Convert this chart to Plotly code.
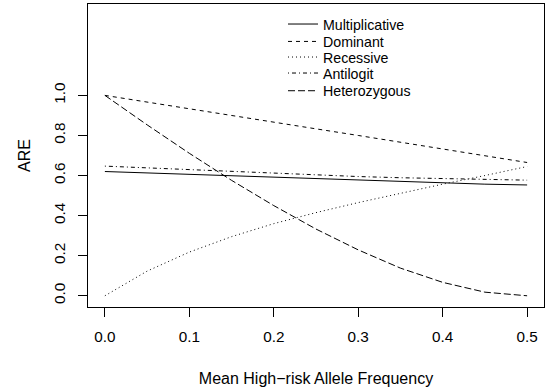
import plotly.graph_objects as go

# Mean high-risk allele frequency
freq = [0.0, 0.05, 0.10, 0.15, 0.20, 0.25, 0.30, 0.35, 0.40, 0.45, 0.50]

# ARE values
multiplicative = [0.620, 0.613, 0.606, 0.597, 0.589, 0.582, 0.575, 0.568, 0.562, 0.557, 0.553]
dominant = [1.000, 0.966, 0.932, 0.899, 0.866, 0.833, 0.800, 0.767, 0.733, 0.699, 0.665]
recessive = [0.000, 0.123, 0.218, 0.295, 0.360, 0.415, 0.465, 0.512, 0.557, 0.600, 0.645]
antilogit = [0.647, 0.638, 0.630, 0.620, 0.611, 0.602, 0.595, 0.589, 0.584, 0.580, 0.577]
heterozygous = [1.000, 0.853, 0.711, 0.576, 0.450, 0.333, 0.229, 0.138, 0.067, 0.018, 0.000]

series_names = ["Multiplicative", "Dominant", "Recessive", "Antilogit", "Heterozygous"]
series_values = [multiplicative, dominant, recessive, antilogit, heterozygous]
dashes = ["solid", "4px,4px", "1px,3px", "1px,3px,4px,3px", "7px,3px"]

x_ticks = [0.0, 0.1, 0.2, 0.3, 0.4, 0.5]
y_ticks = [0.0, 0.2, 0.4, 0.6, 0.8, 1.0]

FONT = "Liberation Sans, Arial, Helvetica, sans-serif"
FS_TICK = 15.3
FS_TITLE = 16
FS_LEG = 14.2

W, H = 550, 391
ML, MR, MT, MB = 88, 6, 4, 84
plot_h = H - MT - MB
plot_w = W - ML - MR

legend_rows_px = [24.3, 41.7, 57.3, 73.3, 91.0]
legend_left_px = 283

fig = go.Figure()
legend_keys = ["legend", "legend2", "legend3", "legend4", "legend5"]
for name, vals, dash, lk in zip(series_names, series_values, dashes, legend_keys):
    fig.add_trace(go.Scatter(
        x=freq, y=vals, mode="lines", name=name,
        line=dict(color="black", width=1, dash=dash),
        legend=lk, showlegend=True,
    ))

layout_legends = {}
for lk, ypx in zip(legend_keys, legend_rows_px):
    layout_legends[lk] = dict(
        x=(legend_left_px - ML) / plot_w,
        y=(H - MB - ypx) / plot_h,
        xanchor="left", yanchor="middle",
        bgcolor="rgba(0,0,0,0)", borderwidth=0,
        font=dict(family=FONT, size=FS_LEG, color="black"),
        itemclick=False, itemdoubleclick=False,
    )

axis_common = dict(
    showline=True, mirror=True, linecolor="black", linewidth=1,
    ticks="outside", ticklen=9, tickwidth=1, tickcolor="black",
    showgrid=False, zeroline=False,
    tickfont=dict(family=FONT, size=FS_TICK, color="black"),
    tickformat=".1f", ticklabelstandoff=7,
)

fig.update_layout(
    width=W, height=H,
    margin=dict(l=ML, r=MR, t=MT, b=MB, autoexpand=False),
    paper_bgcolor="white", plot_bgcolor="white",
    font=dict(family=FONT, size=FS_TICK, color="black"),
    xaxis=dict(range=[-0.02, 0.52], tickvals=x_ticks, automargin=False,
               title=dict(text="Mean High\u2212risk Allele Frequency",
                          font=dict(family=FONT, size=FS_TITLE), standoff=28),
               **axis_common),
    yaxis=dict(range=[-0.056, 1.456], tickvals=y_ticks, tickangle=-90, automargin=False,
               title=dict(text="ARE", font=dict(family=FONT, size=FS_TITLE), standoff=16),
               **axis_common),
    **layout_legends,
)

fig.write_html(
    "out.html",
    config={"displayModeBar": False},
    post_script="document.body.style.margin='0';document.body.style.padding='0';",
)
